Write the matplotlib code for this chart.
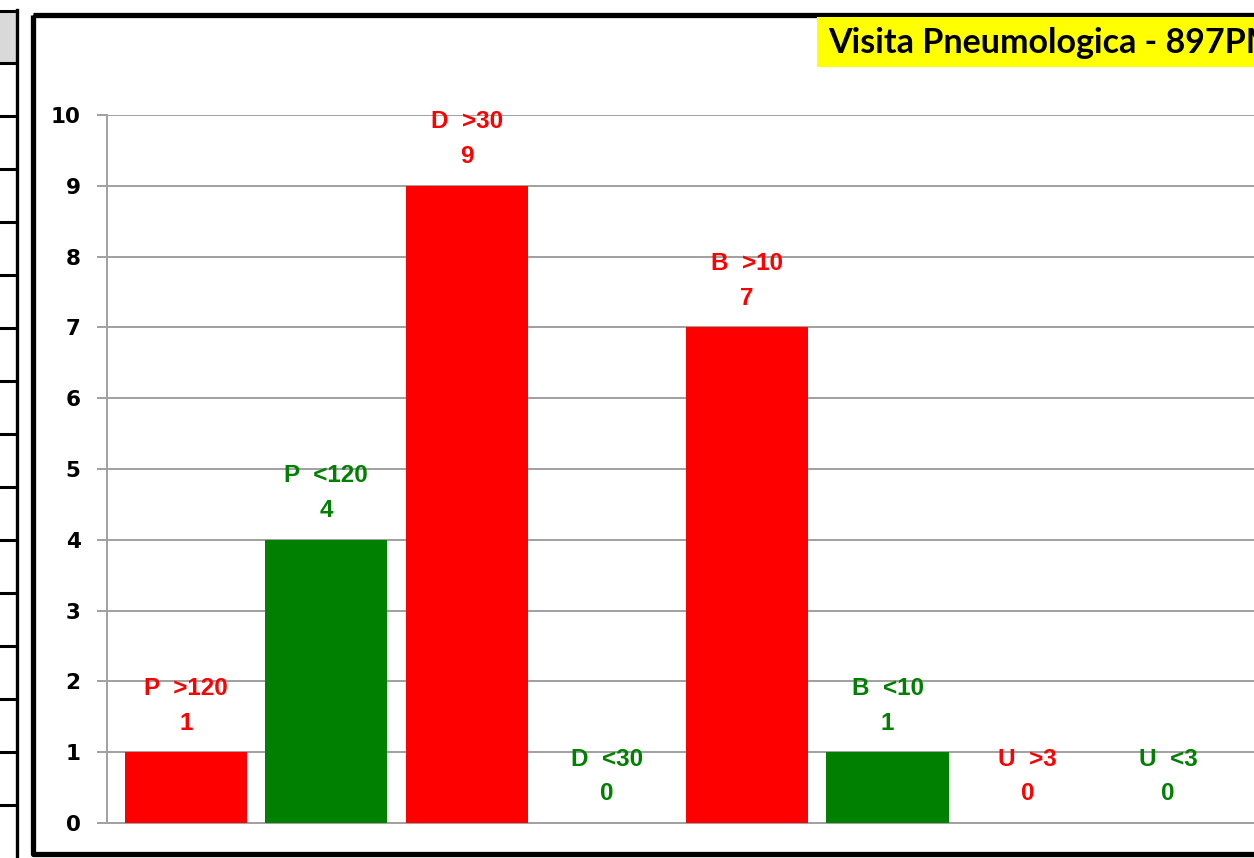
import matplotlib
matplotlib.use("Agg")
import matplotlib.pyplot as plt
from matplotlib.patches import Rectangle
from matplotlib.lines import Line2D

# ---- data ----
categories = ["P  >120", "P  <120", "D  >30", "D  <30", "B  >10", "B  <10", "U  >3", "U  <3"]
values = [1, 4, 9, 0, 7, 1, 0, 0]
bar_colors = ["#FF0000", "#008000", "#FF0000", "#008000", "#FF0000", "#008000", "#FF0000", "#008000"]
y_ticks = [0, 1, 2, 3, 4, 5, 6, 7, 8, 9, 10]
title = "Visita Pneumologica - 897PM"

W, H = 1254, 858
fig = plt.figure(figsize=(W / 100, H / 100), dpi=100)
fig.patch.set_facecolor("white")

# overlay (pixel coordinates, y down)
ov = fig.add_axes([0, 0, 1, 1], zorder=0)
ov.set_xlim(0, W)
ov.set_ylim(H, 0)
ov.axis("off")

# left table fragment
ov.add_patch(Rectangle((0, 11), 16, 52, facecolor="#D9D9D9", edgecolor="none"))
ov.add_line(Line2D([0, 17], [11, 11], color="black", lw=2.2))
row_y = 63.0
while row_y < H:
    ov.add_line(Line2D([0, 16], [row_y, row_y], color="black", lw=2.2))
    row_y += 53.0
ov.add_line(Line2D([16.5, 16.5], [10, H + 5], color="black", lw=2.4))

# chart frame
ov.add_patch(Rectangle((32.5, 14.5), 1400, 839, facecolor="none", edgecolor="black",
                       lw=3.8, joinstyle="round"))

# title box
ov.add_patch(Rectangle((817, 17), 500, 50, facecolor="#FFFF00", edgecolor="none"))
ov.text(828, 43, title, fontsize=24.5, fontweight="bold", family="Lato",
        ha="left", va="center", color="black")

# main axes
x0_px, x_step = 186.0, 140.3
ax_left, ax_bottom, ax_top = 107.0, 823.0, 115.0
ax = fig.add_axes([ax_left / W, (H - ax_bottom) / H, (W - ax_left) / W, (ax_bottom - ax_top) / H],
                  zorder=1)
ax.set_facecolor("none")
xs = list(range(len(categories)))
ax.bar(xs, values, width=0.87, color=bar_colors, zorder=3)
ax.set_xlim(-(x0_px - ax_left) / x_step, (W - x0_px) / x_step)
ax.set_ylim(0, 10)
ax.set_yticks(y_ticks)
ax.set_xticks([])
ax.yaxis.grid(True, color="#A0A0A0", lw=1.4, zorder=0)
ax.set_axisbelow(True)
for s in ["top", "right"]:
    ax.spines[s].set_visible(False)
ax.spines["left"].set_color("#A0A0A0")
ax.spines["left"].set_linewidth(1.4)
ax.spines["bottom"].set_color("#A0A0A0")
ax.spines["bottom"].set_linewidth(1.4)
ax.tick_params(axis="y", direction="out", length=7, width=1.4, color="#A0A0A0", pad=12,
               labelsize=15.5)
for lab in ax.get_yticklabels():
    lab.set_fontweight("bold")
    lab.set_family("DejaVu Sans")

for x, v, name, c in zip(xs, values, categories, bar_colors):
    ax.annotate(str(v), (x, v), xytext=(0, 29 * 0.72), textcoords="offset points",
                ha="center", va="center", color=c, fontsize=17.5, fontweight="bold",
                family="Liberation Sans", zorder=4)
    ax.annotate(name, (x, v), xytext=(0, 64 * 0.72), textcoords="offset points",
                ha="center", va="center", color=c, fontsize=17.5, fontweight="bold",
                family="Liberation Sans", zorder=4)

fig.savefig("out.png", dpi=100)
